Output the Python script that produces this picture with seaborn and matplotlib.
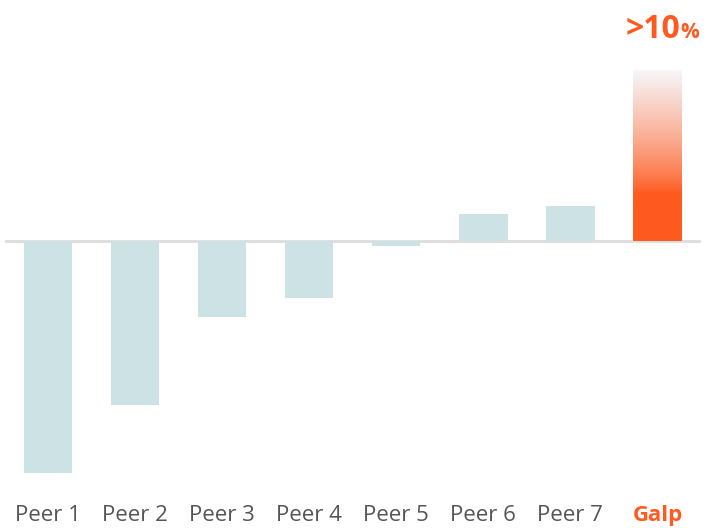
import numpy as np
import pandas as pd
import matplotlib
matplotlib.use("Agg")
import matplotlib.pyplot as plt
import seaborn as sns
from matplotlib.colors import to_rgb

categories = ["Peer 1", "Peer 2", "Peer 3", "Peer 4", "Peer 5", "Peer 6", "Peer 7", "Galp"]
values = [-13.57, -9.59, -4.44, -3.33, -0.32, 1.60, 2.05, 10.0]
top_label = ">10"
top_suffix = "%"

peer_color = "#cde2e5"
galp_color = "#ff5a1f"
label_grey = "#555555"

sns.set_theme(style="white")
plt.rcParams['font.family'] = ['Open Sans', 'DejaVu Sans']

df = pd.DataFrame({"cat": categories, "val": values})
fig = plt.figure(figsize=(7.10, 5.28), dpi=100)
W, H = 710, 528
ax = fig.add_axes([4.5 / W, 1 - 473 / H, (701 - 4.5) / W, (473 - 70) / H])

palette = [peer_color] * 7 + [galp_color]
sns.barplot(data=df, x="cat", y="val", hue="cat", palette=palette, legend=False,
            width=0.555, ax=ax, saturation=1, linewidth=0)

ax.axhline(0, color="#dddddd", lw=2, zorder=0.5)

# gradient Galp bar
patch = ax.patches[-1]
x0, y0 = patch.get_x(), patch.get_y()
w, h = patch.get_width(), patch.get_height()
patch.set_visible(False)
n = 256
t = np.linspace(0, 1, n)  # 0 bottom, 1 top
solid = 0.28
f = np.clip((t - solid) / (1 - solid), 0, 1)
mix = f ** 0.8
c1 = np.array(to_rgb(galp_color))
c2 = np.array(to_rgb("#f6f7fa"))
cols = c1[None, :] * (1 - mix[:, None]) + c2[None, :] * mix[:, None]
img = cols[::-1][:, None, :]
ax.imshow(img, extent=[x0, x0 + w, y0, y0 + h], aspect="auto", zorder=2,
          interpolation="bilinear")
ax.set_xlim(-0.5, 7.5)
ax.set_ylim(min(values), max(values))

ax.set_xlabel("")
ax.set_ylabel("")
ax.set_yticks([])
ax.tick_params(axis="x", length=0, pad=23, labelsize=16, labelcolor=label_grey)
for lab in ax.get_xticklabels():
    if lab.get_text() == "Galp":
        lab.set_color(galp_color)
        lab.set_fontweight("bold")
for s in ax.spines.values():
    s.set_visible(False)
ax.patch.set_alpha(0)

fig.text(626 / W, 1 - 38 / H, top_label, color=galp_color, fontsize=23, fontweight="bold",
         ha="left", va="baseline")
fig.text(680 / W, 1 - 38 / H, top_suffix, color=galp_color, fontsize=15, fontweight="bold",
         ha="left", va="baseline")

fig.savefig("out.png", dpi=100)
